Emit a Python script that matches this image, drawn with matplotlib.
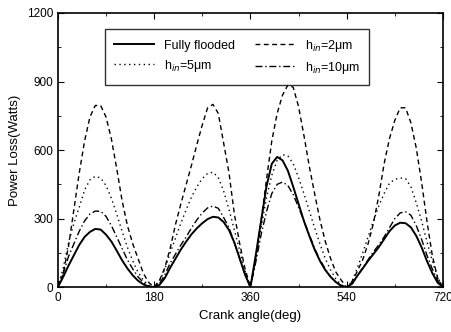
import numpy as np
import matplotlib.pyplot as plt
from matplotlib.ticker import MultipleLocator

plt.rcParams['font.family'] = ['Liberation Sans', 'DejaVu Sans']

# crank angle grid, 10 deg steps over the full 720 deg cycle
angle = list(range(0, 721, 10))

fully_flooded = [
    0, 45, 95, 140, 185, 220, 242, 255, 252, 230, 200, 160, 118, 82, 52, 28, 12, 3,
    0, 10, 40, 85, 125, 165, 200, 232, 258, 280, 298, 308, 305, 285, 250, 195, 125, 55,
    0, 140, 290, 440, 540, 570, 555, 510, 440, 365, 290, 225, 165, 115, 75, 45, 22, 6,
    0, 15, 50, 82, 115, 145, 175, 210, 245, 270, 282, 280, 262, 225, 175, 115, 62, 20,
    0,
]
h_2um = [
    0, 60, 180, 340, 500, 640, 745, 795, 795, 745, 650, 520, 380, 270, 190, 125, 60, 20,
    0, 30, 85, 170, 275, 365, 450, 535, 625, 710, 785, 800, 760, 630, 500, 320, 190, 80,
    0, 130, 290, 470, 640, 760, 840, 885, 875, 790, 665, 530, 410, 295, 200, 125, 65, 30,
    0, 25, 70, 120, 190, 280, 400, 540, 650, 730, 785, 785, 720, 610, 460, 290, 140, 40,
    0,
]
h_5um = [
    0, 85, 195, 280, 350, 425, 470, 485, 478, 445, 390, 320, 245, 175, 115, 65, 30, 8,
    0, 25, 80, 150, 215, 280, 340, 395, 440, 475, 498, 503, 480, 420, 340, 250, 160, 70,
    0, 120, 260, 390, 490, 555, 580, 575, 540, 480, 410, 335, 260, 190, 125, 75, 35, 10,
    0, 25, 85, 150, 220, 290, 355, 410, 455, 472, 478, 475, 440, 370, 290, 200, 115, 45,
    0,
]
h_10um = [
    0, 60, 135, 190, 245, 290, 320, 333, 332, 310, 270, 220, 170, 120, 80, 45, 20, 5,
    0, 15, 55, 105, 145, 185, 220, 260, 295, 325, 347, 355, 345, 305, 260, 195, 125, 55,
    0, 110, 230, 330, 410, 450, 460, 445, 405, 350, 290, 230, 170, 120, 80, 45, 20, 5,
    0, 15, 50, 85, 120, 155, 185, 220, 260, 300, 325, 330, 315, 270, 210, 140, 80, 30,
    0,
]

fig = plt.figure(figsize=(4.52, 3.32), dpi=100)
ax = fig.add_axes([0.128, 0.135, 0.852, 0.826])

l_ff, = ax.plot(angle, fully_flooded, color='black', lw=1.4, ls='-')
l_2, = ax.plot(angle, h_2um, color='black', lw=1.0, ls=(0, (3.5, 2.5)))
l_5, = ax.plot(angle, h_5um, color='black', lw=1.0, ls=(0, (1, 2.5)))
l_10, = ax.plot(angle, h_10um, color='black', lw=1.0, ls=(0, (5, 2, 1, 2)))

ax.set_xlim(0, 720)
ax.set_ylim(0, 1200)
ax.xaxis.set_major_locator(MultipleLocator(180))
ax.xaxis.set_minor_locator(MultipleLocator(90))
ax.yaxis.set_major_locator(MultipleLocator(300))
ax.yaxis.set_minor_locator(MultipleLocator(150))
ax.tick_params(which='both', direction='in', top=True, right=True, labelsize=8.5)
ax.tick_params(which='major', length=4)
ax.tick_params(which='minor', length=2)
for s in ax.spines.values():
    s.set_linewidth(1.2)

ax.set_xlabel('Crank angle(deg)', fontsize=9.5)
ax.set_ylabel('Power Loss(Watts)', fontsize=9.5)

# legend: two columns, filled column-wise
leg = ax.legend([l_ff, l_5, l_2, l_10],
                ['Fully flooded', r'h$_{in}$=5μm', r'h$_{in}$=2μm', r'h$_{in}$=10μm'],
                ncol=2, loc='upper center', bbox_to_anchor=(0.465, 0.965),
                fontsize=9, frameon=True, fancybox=False, edgecolor='black',
                handlelength=3.2, columnspacing=1.6, borderpad=0.7, labelspacing=0.5)
leg.get_frame().set_linewidth(1.0)

fig.savefig('out.png', dpi=100)
